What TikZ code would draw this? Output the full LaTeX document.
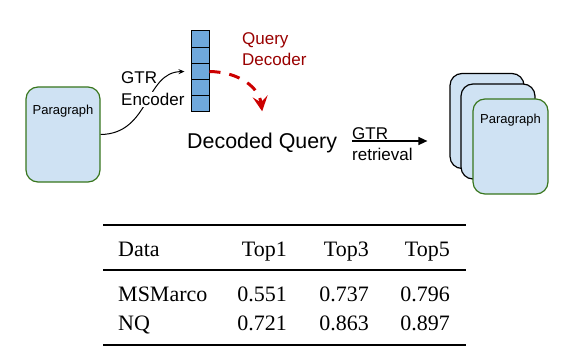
\documentclass[tikz,border=0pt]{standalone}
\usepackage{fontspec}
\setmainfont{Liberation Serif}
\newfontfamily\arialfont{Liberation Sans}
\usetikzlibrary{arrows.meta, positioning}

\definecolor{parafill}{HTML}{CFE2F3}
\definecolor{paragreen}{HTML}{38761D}
\definecolor{cellblue}{HTML}{6FA8DC}
\definecolor{decred}{HTML}{CC0000}
\definecolor{dectext}{HTML}{990000}

\tikzset{
	parabox/.style={draw=paragreen, fill=parafill, line width=1.2pt,
		rounded corners=12pt, minimum width=74pt, minimum height=95pt, inner sep=0pt},
	stackbox/.style={parabox, draw=black},
	paratext/.style={font=\arialfont\fontsize{13}{15}\selectfont, inner sep=0pt},
	cellbox/.style={draw, fill=cellblue, line width=1pt,
		minimum width=18pt, minimum height=16.2pt, inner sep=0pt},
	flowtext/.style={font=\arialfont\fontsize{17}{21}\selectfont, align=left, inner sep=0pt},
	tabtext/.style={font=\fontsize{22}{26}\selectfont, inner sep=0pt},
}

\begin{document}
\begin{tikzpicture}[x=1pt, y=-1pt]
\useasboundingbox (0,0) rectangle (561,358);

% Add the paragraph
\node[parabox] (para) at (63,134.5) {};
\node[paratext, anchor=base] (paralbl) at ([yshift=-28pt]para.north) {Paragraph};

% Add the encoder cells
\foreach \i in {1,...,5}
	\node[cellbox] (c\i) at (200,{31+16.2*(\i-0.5)}) {};

% Encoder arrow
\draw[line width=1pt, -{Stealth[length=6pt,width=5pt]}, shorten >=6pt]
	(para.east) .. controls (150,134) and (145,72) .. (c3.west);
\node[flowtext, anchor=north west] (gtrtxt) at (121,71) {GTR};
\node[flowtext, anchor=north west, fill=white, inner ysep=1pt] (enctxt) at (121,92) {Encoder};

% Query decoder
\node[flowtext, anchor=north west, text=dectext] (qdec) at (242,32) {Query\\Decoder};
\node[font=\arialfont\fontsize{21.4}{25}\selectfont, inner sep=0pt, anchor=base west] (dq) at (187,148) {Decoded Query};
\draw[decred, line width=3pt, dash pattern=on 11pt off 9pt,
		-{Stealth[length=15pt,width=15pt,inset=6pt]}]
	(c3.east) .. controls (240,72) and (259,88) .. ([yshift=21pt]dq.north);

% Retrieved paragraphs
\node[stackbox] (back) at (487,121) {};
\node[stackbox] (mid) at (498,131.5) {};
\node[parabox, minimum width=75pt] (front) at (510.5,146.5) {};
\node[paratext, anchor=base] (frontlbl) at ([yshift=-25pt]front.north) {Paragraph};

% Retrieval arrow
\draw[line width=1.3pt, -{Triangle[length=9pt,width=8pt]}, shorten <=15pt, shorten >=22pt]
	(dq.east |- 0,141) -- (back.west |- 0,141);
\node[flowtext, anchor=south west] (rtop) at (352,139.5) {GTR};
\node[flowtext, anchor=north west] (rbot) at (352,147.5) {retrieval};

% Results table
\draw[line width=2pt] (103,225) -- (466,225);
\draw[line width=1.2pt] (103,270) -- (466,270);
\draw[line width=2pt] (103,345) -- (466,345);

\node[tabtext, anchor=base west] (hdata) at (118,256) {Data};
\node[tabtext, anchor=base east] (htop1) at (287,256) {Top1};
\node[tabtext, anchor=base east] (htop3) at (369,256) {Top3};
\node[tabtext, anchor=base east] (htop5) at (450,256) {Top5};

\foreach \name/\a/\b/\c/\y in {MSMarco/0.551/0.737/0.796/301, NQ/0.721/0.863/0.897/330}{
	\node[tabtext, anchor=base west] (row\name) at (118,\y) {\name};
	\node[tabtext, anchor=base east] at (287,\y) {\a};
	\node[tabtext, anchor=base east] at (369,\y) {\b};
	\node[tabtext, anchor=base east] at (450,\y) {\c};
}
\end{tikzpicture}
\end{document}
